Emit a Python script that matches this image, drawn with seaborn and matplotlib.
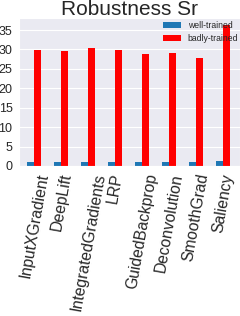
import matplotlib
matplotlib.use("Agg")
import matplotlib.pyplot as plt
import seaborn as sns
import pandas as pd

methods = ["InputXGradient", "DeepLift", "IntegratedGradients", "LRP",
           "GuidedBackprop", "Deconvolution", "SmoothGrad", "Saliency"]
well_trained = [1.0, 1.0, 1.0, 1.0, 1.0, 1.0, 1.1, 1.2]
badly_trained = [29.9, 29.6, 30.4, 29.9, 28.9, 29.0, 27.8, 36.2]

df = pd.DataFrame({
    "method": methods * 2,
    "Sr": well_trained + badly_trained,
    "model": ["well-trained"] * len(methods) + ["badly-trained"] * len(methods),
})

sns.set_style("darkgrid")
plt.rcParams["font.family"] = ["Liberation Sans", "DejaVu Sans"]

fig = plt.figure(figsize=(2.4, 3.16), dpi=100)
# axes run past the right edge of the canvas, as in the original crop
ax = fig.add_axes([19 / 240, 1 - 166 / 316, 221 / 240, 148 / 316])
sns.barplot(data=df, x="method", y="Sr", hue="model",
            hue_order=["well-trained", "badly-trained"],
            palette=["#1f77b4", "red"], saturation=1, width=0.5,
            linewidth=0, ax=ax)

ax.set_xlim(-0.556, 7.63)
ax.set_ylim(0, 38.1)
ax.set_yticks(range(0, 36, 5))
ax.set_xlabel("")
ax.set_ylabel("")
ax.set_title("Robustness Sr", fontsize=15, pad=2)
ax.tick_params(axis="y", labelsize=9, pad=1.2)
ax.tick_params(axis="x", labelsize=11.3, pad=1)
plt.setp(ax.get_xticklabels(), rotation=80)
ax.legend(loc="upper left", bbox_to_anchor=(0.65, 0.98), fontsize=6.2,
          frameon=False, handlelength=2.1, handleheight=0.6,
          labelspacing=0.5, borderaxespad=0, borderpad=0)

fig.savefig("out.png", dpi=100)
plt.close()
